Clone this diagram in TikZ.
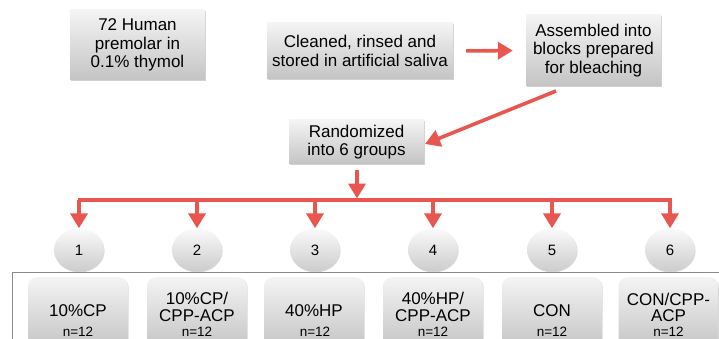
\documentclass[tikz,border=0pt]{standalone}
\usepackage{fontspec}
\setmainfont{Liberation Sans}
\usetikzlibrary{shapes.geometric,shadows,arrows.meta,calc}
\definecolor{arr}{HTML}{E9564F}
\definecolor{boxtop}{HTML}{F4F4F4}
\definecolor{boxbot}{HTML}{C4C4C4}
\definecolor{elltop}{HTML}{FAFAFA}
\definecolor{ellbot}{HTML}{CCCCCC}
\definecolor{frame}{HTML}{8A8A8A}
\tikzset{
  topbox/.style={draw=none, top color=boxtop, bottom color=boxbot,
    drop shadow={shadow xshift=0.8pt, shadow yshift=-1.2pt, opacity=0.35},
    align=center, font=\fontsize{17}{18.5}\selectfont, inner sep=0pt},
  grpbox/.style={draw=none, rounded corners=9pt, top color=boxtop, bottom color=boxbot,
    drop shadow={shadow xshift=0.6pt, shadow yshift=-1pt, opacity=0.3},
    minimum width=100pt, minimum height=72pt, inner sep=0pt, anchor=north},
  numell/.style={ellipse, draw=none, top color=elltop, bottom color=ellbot,
    drop shadow={shadow xshift=0.6pt, shadow yshift=-1pt, opacity=0.3},
    minimum width=50pt, minimum height=43pt, inner sep=0pt, font=\fontsize{15}{16}\selectfont},
  grptext/.style={align=center, font=\fontsize{17}{17.5}\selectfont, inner sep=0pt},
  ntext/.style={font=\fontsize{13.5}{14}\selectfont, inner sep=0pt},
  redarrow/.style={draw=arr, line width=3.6pt, -{Triangle[width=17pt,length=15pt]}},
  redline/.style={draw=arr, line width=3.6pt},
}
\begin{document}
\begin{tikzpicture}[x=1pt,y=-1pt]
\useasboundingbox (0,0) rectangle (719,339);
\clip (0,0) rectangle (719,339);
\fill[white] (0,0) rectangle (719,339);

% top row
\node[topbox, minimum width=135pt, minimum height=70pt] (n1) at (137.5,45) {72 Human\\premolar in\\0.1\% thymol};
\node[topbox, minimum width=186pt, minimum height=56pt] (n2) at (360,51) {Cleaned, rinsed and\\stored in artificial saliva};
\node[topbox, minimum width=135pt, minimum height=71pt] (n3) at (593.5,50.5) {Assembled into\\blocks prepared\\for bleaching};
\node[topbox, minimum width=135pt, minimum height=44pt] (n4) at (356.5,142) {Randomized\\into 6 groups};

\coordinate (a3s) at (556,91);
\coordinate (a4e) at (425,144);
\draw[redarrow, shorten <=13pt, shorten >=13pt] (n2.east) -- (n3.west);
\draw[redarrow] (a3s) -- (a4e);

% tree
\coordinate (hl) at (80,200);
\coordinate (hr) at (670,200);
\coordinate (hc) at (357,200);
\draw[redline] ([xshift=-1.8pt]hl) -- ([xshift=1.8pt]hr);
\draw[redarrow, shorten <=6pt] (n4.south -| hc) -- ([yshift=1.5pt]hc);

% frame
\draw[frame, line width=1pt] (12.5,345) -- (12.5,272.5) -- (730,272.5);

% ellipses
\foreach \i/\x in {1/79,2/197,3/315,4/433,5/552,6/670}{
  \node[numell] (e\i) at (\x,250) {\i};
  \draw[redarrow] (hl -| e\i) -- (e\i.north);
}

% group boxes
\node[grpbox] (g1) at (78,277) {};
\node[grpbox] (g2) at (197,277) {};
\node[grpbox] (g3) at (314,277) {};
\node[grpbox] (g4) at (433,277) {};
\node[grpbox] (g5) at (552,277) {};
\node[grpbox] (g6) at (668.5,277) {};

\node[grptext] (t1) at (78,311) {10\%CP};
\node[grptext] (t2) at (197,307) {10\%CP/\\CPP-ACP};
\node[grptext] (t3) at (314,311) {40\%HP};
\node[grptext] (t4) at (433,307) {40\%HP/\\CPP-ACP};
\node[grptext] (t5) at (552,311) {CON};
\node[grptext, font=\fontsize{17}{16}\selectfont] (t6) at (668.5,307.5) {CON/CPP-\\ACP};

\foreach \i/\x in {1/78,2/197,3/315,4/433,5/552,6/668.5}{
  \node[ntext] (m\i) at (\x,332) {n=12};
}
\end{tikzpicture}
\end{document}
